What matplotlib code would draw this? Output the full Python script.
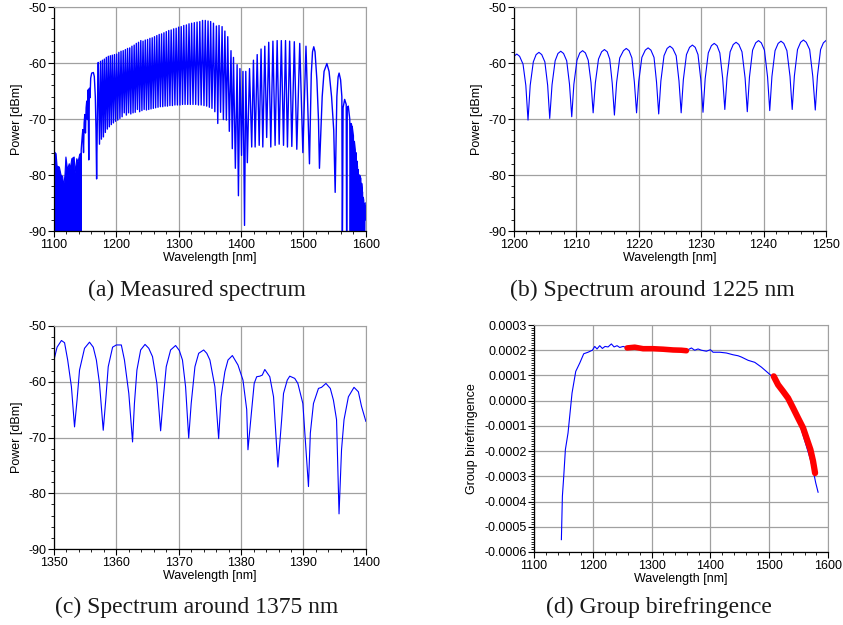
import matplotlib
matplotlib.use('Agg')
import matplotlib.pyplot as plt
from matplotlib.ticker import MultipleLocator, FuncFormatter

# ---------- (a) measured spectrum ----------
# noisy floor below 1143 nm (upper edge of the filled band)
noise_wl = [1100.0, 1102.6, 1104.2, 1107.9, 1110.5, 1113.2, 1114.7, 1116.8, 1118.4, 1121.0,
            1123.7, 1125.3, 1127.9, 1131.6, 1133.2, 1135.8, 1137.9, 1140.5, 1143.2]
noise_top = [-75.8, -76.1, -78.3, -78.5, -79.9, -80.2, -82.0, -80.0, -76.7, -79.0,
             -77.9, -78.8, -77.0, -76.7, -79.6, -77.0, -77.6, -76.2, -76.0]

# fringe peaks and dips
spec_wl = [1143.5, 1143.7, 1145.3, 1146.3, 1147.4, 1148.4, 1149.5, 1150.5, 1151.6, 1152.6,
           1153.7, 1154.7, 1155.8, 1156.8, 1157.9, 1158.9, 1160.5, 1163.2, 1164.7, 1166.3,
           1167.4, 1168.4, 1170.0, 1171.0,
           1173.0, 1174.6, 1176.1, 1177.7, 1179.3, 1180.8, 1182.4, 1184.0, 1185.6, 1187.2,
           1188.8, 1190.4, 1192.0, 1193.6, 1195.3, 1197.0, 1198.7, 1200.5, 1202.25, 1204.0,
           1205.73, 1207.5, 1209.26, 1211.0, 1212.69, 1214.5, 1216.1, 1218.0, 1219.65, 1221.5,
           1223.2, 1225.0, 1226.8, 1228.6, 1230.3, 1232.1, 1233.8, 1235.6, 1237.4, 1239.2,
           1241.0, 1242.8, 1244.6, 1246.4, 1248.3, 1250.1, 1251.95, 1253.8, 1255.6, 1257.5,
           1259.3, 1261.2, 1263.0, 1264.9, 1266.8, 1268.7, 1270.6, 1272.5, 1274.4, 1276.3,
           1278.2, 1280.1, 1282.0, 1284.0, 1285.9, 1287.9, 1289.9, 1291.9, 1293.9, 1295.9,
           1297.9, 1299.9, 1302.0, 1304.0, 1306.1, 1308.1, 1310.2, 1312.3, 1314.4, 1316.5,
           1318.6, 1320.7, 1322.9, 1325.0, 1327.2, 1329.4, 1331.6, 1333.8, 1336.0, 1338.2,
           1340.5, 1342.6, 1344.8, 1347.0, 1349.1, 1351.2, 1353.3, 1355.7, 1357.9, 1360.4,
           1362.6, 1364.6, 1367.1, 1369.5, 1371.6, 1374.0, 1376.4, 1378.6, 1381.1, 1383.8,
           1385.9, 1387.8, 1390.8, 1393.6, 1395.7, 1398.1, 1400.7, 1403.0, 1405.5, 1407.5,
           1410.0, 1413.5, 1417.0, 1419.8, 1422.5, 1425.8, 1429.0, 1432.0, 1434.8, 1438.0,
           1441.0, 1444.3, 1447.6, 1451.0, 1454.5, 1457.8, 1461.0, 1464.5, 1468.0, 1471.2,
           1474.3, 1477.8, 1481.3, 1485.3, 1489.3, 1494.0, 1499.0, 1504.0, 1509.6,
           1512.5, 1514.5, 1516.5, 1518.5, 1521.5, 1524.0, 1525.6,
           1530.0, 1533.0, 1537.5, 1541.0, 1545.0, 1548.5, 1550.8,
           1553.5, 1555.5, 1557.1, 1559.5, 1561.5, 1562.3, 1563.5, 1566.0, 1568.5,
           1569.2, 1570.2, 1571.8, 1574.2, 1575.0, 1576.0, 1577.0, 1577.6, 1578.0, 1580.0,
           1580.5, 1581.5, 1583.0, 1583.5, 1584.0, 1584.7, 1585.5, 1586.5, 1587.0, 1587.2,
           1589.0, 1589.8, 1591.0, 1591.3, 1591.5, 1592.6, 1593.2, 1594.0, 1594.3, 1594.5,
           1595.2, 1595.8, 1596.5, 1596.7, 1596.8, 1597.9, 1598.5, 1599.0, 1599.3, 1600.0]
spec_pow = [-92.0, -75.5, -73.1, -71.9, -76.0, -70.7, -69.2, -72.5, -68.0, -66.8,
            -70.1, -64.8, -77.3, -64.5, -66.2, -62.7, -61.8, -61.7, -62.4, -66.0,
            -71.9, -80.7, -66.0, -59.9,
            -74.5, -59.7, -73.6, -59.5, -73.2, -59.3, -72.4, -59.0, -71.8, -58.8,
            -71.4, -58.7, -71.0, -58.6, -70.7, -58.5, -70.4, -58.4, -70.2, -58.1,
            -69.9, -57.9, -69.6, -57.8, -68.9, -57.6, -69.3, -57.4, -68.9, -57.3,
            -69.1, -57.0, -68.9, -56.8, -68.8, -56.5, -68.3, -56.3, -68.7, -56.0,
            -68.5, -56.1, -68.3, -55.9, -68.4, -55.8, -68.3, -55.6, -68.2, -55.5,
            -68.1, -55.3, -68.0, -55.1, -67.9, -54.9, -67.8, -54.8, -67.8, -54.6,
            -67.7, -54.4, -67.7, -54.2, -67.6, -54.1, -67.6, -53.9, -67.5, -53.8,
            -67.5, -53.6, -67.5, -53.5, -67.4, -53.3, -67.4, -53.2, -67.4, -53.0,
            -67.4, -52.9, -67.4, -52.8, -67.4, -52.7, -67.5, -52.6, -67.5, -52.4,
            -67.6, -52.4, -67.7, -52.5, -67.9, -52.6, -68.1, -52.9, -68.7, -53.4,
            -70.8, -53.3, -68.8, -53.5, -70.1, -54.3, -70.2, -55.3, -72.2, -57.8,
            -75.3, -59.0, -78.8, -60.3, -83.7, -61.0, -76.5, -61.5, -89.0, -61.5,
            -77.8, -61.0, -75.0, -59.5, -75.0, -58.5, -74.7, -57.5, -75.0, -57.0,
            -73.3, -56.3, -75.0, -56.1, -74.7, -56.0, -74.5, -56.0, -74.7, -56.0,
            -75.0, -56.1, -74.9, -56.2, -75.4, -56.5, -76.0, -57.0, -78.0,
            -62.0, -58.0, -57.1, -58.0, -63.0, -70.0, -78.8,
            -66.0, -61.5, -60.1, -61.5, -66.0, -72.0, -83.1,
            -66.0, -62.5, -61.8, -63.0, -66.0, -95.0, -68.0, -66.5, -67.4,
            -95.0, -68.0, -67.7, -70.0, -95.0, -70.8, -71.0, -95.0, -71.3, -73.0,
            -95.0, -74.0, -75.5, -95.0, -76.0, -95.0, -77.5, -78.5, -95.0, -79.0,
            -95.0, -80.0, -80.3, -95.0, -80.5, -95.0, -81.5, -82.5, -95.0, -83.0,
            -95.0, -84.0, -84.5, -95.0, -85.0, -95.0, -85.6, -86.5, -88.0, -85.0]

# ---------- (b) spectrum around 1225 nm ----------
b_wl = [1200.0, 1200.45, 1200.9, 1201.45, 1201.9, 1202.25,
        1202.6, 1203.1, 1203.55, 1204.0, 1204.45, 1204.95, 1205.4, 1205.73,
        1206.1, 1206.6, 1207.05, 1207.5, 1207.95, 1208.45, 1208.9, 1209.26,
        1209.6, 1210.1, 1210.55, 1211.0, 1211.45, 1211.9, 1212.35, 1212.69,
        1213.05, 1213.55, 1214.05, 1214.5, 1214.95, 1215.35, 1215.75, 1216.1,
        1216.45, 1216.95, 1217.55, 1218.0, 1218.45, 1218.9, 1219.3, 1219.65,
        1220.0, 1220.5, 1221.05, 1221.5, 1221.95, 1222.45, 1222.85, 1223.2,
        1223.55, 1224.05, 1224.55, 1225.0, 1225.45, 1226.0, 1226.45, 1226.8,
        1227.15, 1227.65, 1228.15, 1228.6, 1229.05, 1229.5, 1229.95, 1230.3,
        1230.65, 1231.15, 1231.65, 1232.1, 1232.55, 1233.0, 1233.45, 1233.8,
        1234.15, 1234.65, 1235.15, 1235.6, 1236.05, 1236.55, 1237.05, 1237.4,
        1237.75, 1238.25, 1238.75, 1239.2, 1239.65, 1240.15, 1240.65, 1241.0,
        1241.35, 1241.85, 1242.35, 1242.8, 1243.25, 1243.75, 1244.25, 1244.6,
        1244.95, 1245.45, 1245.95, 1246.4, 1246.85, 1247.4, 1247.9, 1248.3,
        1248.65, 1249.15, 1249.6, 1250.0]
b_pow = [-58.8, -58.4, -58.8, -60.2, -64.0, -70.2,
         -64.0, -59.8, -58.5, -58.1, -58.5, -59.8, -64.0, -69.9,
         -63.9, -59.6, -58.3, -57.9, -58.3, -59.6, -63.8, -69.6,
         -63.8, -59.5, -58.2, -57.8, -58.2, -59.5, -63.5, -68.9,
         -63.5, -59.3, -58.0, -57.6, -58.0, -59.3, -63.6, -69.3,
         -63.5, -59.1, -57.8, -57.4, -57.8, -59.1, -63.4, -68.9,
         -63.3, -59.0, -57.7, -57.3, -57.7, -59.0, -63.4, -69.1,
         -63.2, -58.7, -57.4, -57.0, -57.4, -58.7, -63.2, -68.9,
         -63.0, -58.5, -57.2, -56.8, -57.2, -58.5, -63.0, -68.8,
         -62.8, -58.2, -56.9, -56.5, -56.9, -58.2, -62.7, -68.3,
         -62.6, -58.0, -56.7, -56.3, -56.7, -58.0, -62.7, -68.7,
         -62.5, -57.7, -56.4, -56.0, -56.4, -57.7, -62.5, -68.5,
         -62.4, -57.8, -56.5, -56.1, -56.5, -57.8, -62.4, -68.3,
         -62.3, -57.6, -56.3, -55.9, -56.3, -57.6, -62.4, -68.4,
         -62.3, -57.6, -56.4, -56.0]

# ---------- (c) spectrum around 1375 nm ----------
c_wl = [1350.0, 1350.5, 1351.2, 1351.7, 1352.2, 1352.8, 1353.3, 1353.7, 1354.1, 1354.9,
        1355.7, 1356.3, 1356.8, 1357.3, 1357.9, 1358.3, 1358.7, 1359.4, 1360.0, 1360.8,
        1361.3, 1362.0, 1362.6, 1362.9, 1363.3, 1363.9, 1364.6, 1365.2, 1365.8, 1366.5,
        1367.1, 1367.5, 1368.0, 1368.7, 1369.5, 1370.1, 1370.6, 1371.1, 1371.6, 1372.0,
        1372.6, 1373.2, 1374.0, 1374.5, 1375.0, 1375.8, 1376.4, 1376.8, 1377.4, 1377.9,
        1378.6, 1379.5, 1380.3, 1380.9, 1381.1, 1381.7, 1382.1, 1382.5, 1383.0, 1383.4,
        1383.8, 1384.6, 1385.2, 1385.9, 1386.5, 1386.8, 1387.4, 1387.8, 1388.6, 1389.1,
        1389.9, 1390.8, 1391.1, 1391.6, 1392.4, 1392.9, 1393.6, 1394.3, 1394.8, 1395.3,
        1395.7, 1396.1, 1396.5, 1397.2, 1398.1, 1398.8, 1399.3, 1400.0]
c_pow = [-56.1, -53.8, -52.6, -53.0, -56.1, -60.9, -68.1, -63.3, -57.9, -54.0,
         -52.9, -53.8, -56.1, -60.3, -68.7, -63.3, -57.3, -53.8, -53.4, -53.4,
         -56.1, -62.1, -70.8, -63.9, -57.9, -54.3, -53.3, -54.0, -55.5, -60.3,
         -68.8, -63.3, -57.3, -54.3, -53.5, -54.4, -56.1, -60.9, -70.1, -63.9,
         -57.3, -54.9, -54.3, -54.9, -56.1, -60.9, -70.2, -62.7, -58.2, -56.1,
         -55.3, -57.0, -59.7, -65.0, -72.2, -65.0, -60.3, -59.1, -59.0, -58.8,
         -57.8, -59.1, -62.7, -75.3, -66.8, -62.1, -59.7, -59.0, -59.4, -60.3,
         -63.9, -78.8, -69.2, -63.9, -61.2, -61.0, -60.3, -61.2, -63.3, -66.8,
         -83.7, -72.2, -66.8, -62.7, -61.0, -61.8, -64.4, -67.1]

# ---------- (d) group birefringence ----------
d_wl = [1146.5, 1148.2, 1150.5, 1153.3, 1157.8, 1164.6, 1170.9, 1177.7, 1184.5, 1191.8,
        1199.2, 1203.2, 1207.1, 1211.7, 1216.2, 1220.7, 1225.9, 1231.5, 1236.1, 1241.2,
        1245.7, 1251.4, 1257.0, 1270.0, 1285.0, 1300.0, 1320.0, 1340.0, 1355.0, 1362.0,
        1367.6, 1373.2, 1378.9, 1384.6, 1393.1, 1399.9, 1404.4, 1415.8, 1427.1, 1438.4,
        1447.0, 1452.6, 1464.0, 1475.3, 1486.6, 1498.0, 1507.6, 1517.8, 1529.1, 1537.6,
        1546.1, 1554.6, 1563.2, 1570.0, 1575.6, 1579.0, 1583.0]
d_bir = [-0.000551, -0.000379, -0.000300, -0.000194, -0.000128, 0.000030, 0.000116, 0.000149,
         0.000186, 0.000192, 0.000200, 0.000215, 0.000205, 0.000218, 0.000207, 0.000215,
         0.000213, 0.000225, 0.000213, 0.000218, 0.000211, 0.000215, 0.000211, 0.000210,
         0.000207, 0.000206, 0.000204, 0.000201, 0.000199, 0.000202, 0.000209, 0.000200,
         0.000205, 0.000200, 0.000196, 0.000202, 0.000192, 0.000192, 0.000189, 0.000182,
         0.000178, 0.000173, 0.000160, 0.000152, 0.000133, 0.000110, 0.000090, 0.000060,
         0.000024, -0.000016, -0.000062, -0.000115, -0.000181, -0.000234, -0.000287,
         -0.000326, -0.000363]
red1_wl = [1258.2, 1271.2, 1285.4, 1302.4, 1319.4, 1336.4, 1350.6, 1359.1]
red1_bir = [0.000209, 0.000212, 0.000206, 0.000206, 0.000204, 0.000201, 0.000200, 0.000198]
red2_wl = [1507.6, 1515.0, 1523.5, 1532.0, 1540.5, 1549.0, 1557.5, 1564.3, 1570.0, 1574.5, 1577.9]
red2_bir = [0.0000965, 0.000063, 0.000037, 0.000010, -0.000029, -0.000069, -0.000108,
            -0.000155, -0.000194, -0.000240, -0.000287]

captions = ['(a) Measured spectrum', '(b) Spectrum around 1225 nm',
            '(c) Spectrum around 1375 nm', '(d) Group birefringence']

plt.rcParams['font.family'] = ['Liberation Sans', 'DejaVu Sans']
plt.rcParams['axes.unicode_minus'] = False

BLUE = '#0000ff'
GRID = '#a0a0a0'


def style(ax, xlim, ylim, xmaj, xmin, ymaj, ymin, ylabel):
    ax.set_xlim(*xlim)
    ax.set_ylim(*ylim)
    ax.xaxis.set_major_locator(MultipleLocator(xmaj))
    ax.xaxis.set_minor_locator(MultipleLocator(xmin))
    ax.yaxis.set_major_locator(MultipleLocator(ymaj))
    ax.yaxis.set_minor_locator(MultipleLocator(ymin))
    ax.grid(True, which='major', color=GRID, linewidth=0.9)
    ax.set_axisbelow(True)
    for side in ['top', 'right']:
        ax.spines[side].set_color(GRID)
    for side in ['left', 'bottom']:
        ax.spines[side].set_color('black')
        ax.spines[side].set_linewidth(0.9)
    ax.tick_params(which='major', direction='out', length=4, width=0.8, labelsize=9, pad=1.5)
    ax.tick_params(which='minor', direction='out', length=2, width=0.6)
    ax.tick_params(top=False, right=False, which='both')
    ax.set_xlabel('Wavelength [nm]', fontsize=9, labelpad=1)
    ax.set_ylabel(ylabel, fontsize=9)


fig = plt.figure(figsize=(8.43, 6.25), dpi=100)

ax_a = fig.add_axes([0.064, 0.6304, 0.370, 0.3584])
ax_a.fill_between(noise_wl, noise_top, -90, color=BLUE, linewidth=0.8)
ax_a.plot(spec_wl, spec_pow, color=BLUE, linewidth=1.0)
style(ax_a, (1100, 1600), (-90, -50), 100, 20, 10, 2, 'Power [dBm]')

ax_b = fig.add_axes([0.6097, 0.6304, 0.370, 0.3584])
ax_b.plot(b_wl, b_pow, color=BLUE, linewidth=0.8)
style(ax_b, (1200, 1250), (-90, -50), 10, 2, 10, 2, 'Power [dBm]')

ax_c = fig.add_axes([0.064, 0.1216, 0.370, 0.3568])
ax_c.plot(c_wl, c_pow, color=BLUE, linewidth=0.8)
style(ax_c, (1350, 1400), (-90, -50), 10, 2, 10, 2, 'Power [dBm]')

ax_d = fig.add_axes([0.6335, 0.1168, 0.3488, 0.3632])
ax_d.plot(d_wl, d_bir, color=BLUE, linewidth=0.8)
ax_d.plot(red1_wl, red1_bir, color='#ff0000', linewidth=4, solid_capstyle='round')
ax_d.plot(red2_wl, red2_bir, color='#ff0000', linewidth=4.5, solid_capstyle='round')
style(ax_d, (1100, 1600), (-0.0006, 0.0003), 100, 20, 0.0001, 0.00001, 'Group birefringence')
ax_d.yaxis.set_major_formatter(FuncFormatter(lambda v, p: '%.4f' % (0.0 if abs(v) < 1e-9 else v)))

cap_pos = [(197, 290), (652, 290), (197, 607), (659, 607)]
for text, (px, py) in zip(captions, cap_pos):
    fig.text(px / 843, 1 - py / 625, text, family=['Liberation Serif', 'DejaVu Serif'],
             fontsize=17, ha='center', va='center', color='#1a1a1a')

fig.savefig('out.png', dpi=100)
